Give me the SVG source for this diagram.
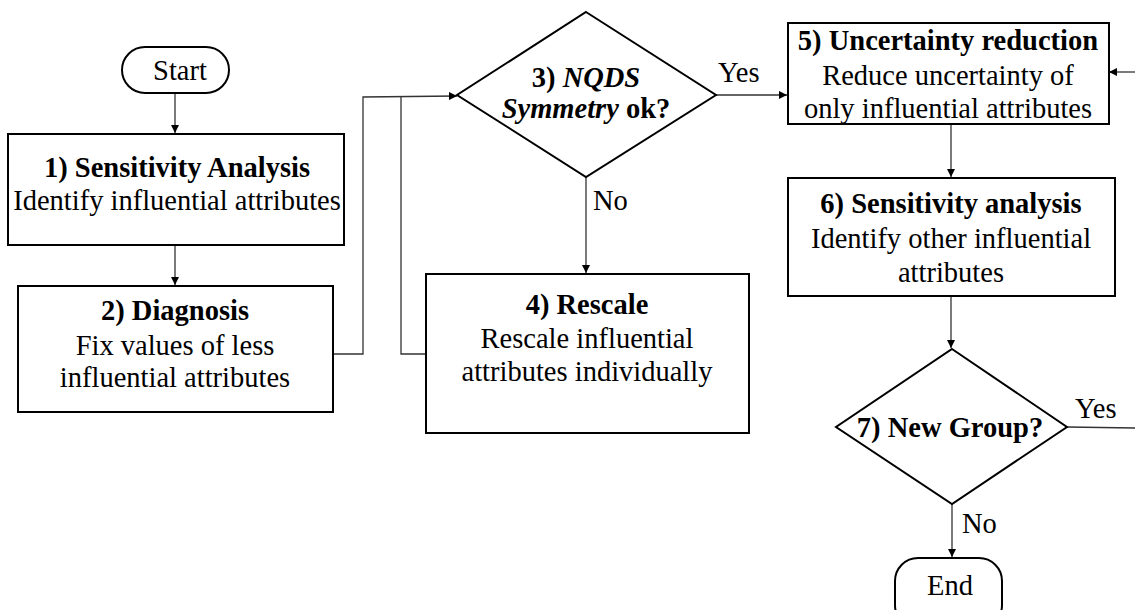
<svg xmlns="http://www.w3.org/2000/svg" width="1135" height="610" viewBox="0 0 1135 610">
<style>
.shape{fill:#fff;stroke:#000;stroke-width:2}
.line{fill:none;stroke:#333;stroke-width:1.3}
text{font-family:"Liberation Serif","Times New Roman",serif;font-size:28.5px;fill:#000;text-anchor:middle}
.b{font-weight:bold}
.lbl{text-anchor:start}
</style>
<defs>
<marker id="ah" viewBox="0 0 10 10" refX="10" refY="5" markerWidth="8" markerHeight="8" markerUnits="userSpaceOnUse" orient="auto">
<path d="M0,0 L10,5 L0,10 Z" fill="#000"/>
</marker>
</defs>
<rect width="1135" height="610" fill="#fff"/>
<g id="connectors">
<line class="line" x1="175" y1="93" x2="175" y2="133" marker-end="url(#ah)"/>
<line class="line" x1="175" y1="245" x2="175" y2="285" marker-end="url(#ah)"/>
<polyline class="line" points="333,354 363,354 363,97 457,96" marker-end="url(#ah)"/>
<polyline class="line" points="426,354 401,354 401,97"/>
<line class="line" x1="716" y1="95" x2="787" y2="95" marker-end="url(#ah)"/>
<line class="line" x1="586" y1="177" x2="586" y2="273" marker-end="url(#ah)"/>
<line class="line" x1="1135" y1="72" x2="1109" y2="72" marker-end="url(#ah)"/>
<line class="line" x1="951" y1="124" x2="951" y2="177" marker-end="url(#ah)"/>
<line class="line" x1="951" y1="296" x2="951" y2="348" marker-end="url(#ah)"/>
<line class="line" x1="1067" y1="427" x2="1135" y2="428"/>
<line class="line" x1="952" y1="504" x2="952" y2="557" marker-end="url(#ah)"/>
<text class="lbl" x="718" y="82">Yes</text>
<text class="lbl" x="593" y="210">No</text>
<text class="lbl" x="1075" y="418">Yes</text>
<text class="lbl" x="962" y="533">No</text>
</g>
<g id="start">
<rect class="shape" x="122" y="47" width="107" height="46" rx="23" ry="23"/>
<text x="180" y="80">Start</text>
</g>
<g id="n1">
<rect class="shape" x="8" y="134" width="336" height="111"/>
<text class="b" x="177" y="177">1) Sensitivity Analysis</text>
<text x="177" y="210">Identify influential attributes</text>
</g>
<g id="n2">
<rect class="shape" x="18" y="286" width="315" height="126"/>
<text class="b" x="175" y="320">2) Diagnosis</text>
<text x="175" y="355">Fix values of less</text>
<text x="175" y="387">influential attributes</text>
</g>
<g id="n3">
<polygon class="shape" points="586,12 716,95 586,177 457,95"/>
<text class="b" x="586" y="87">3) <tspan font-style="italic">NQDS</tspan></text>
<text class="b" x="586" y="118"><tspan font-style="italic">Symmetry</tspan> ok?</text>
</g>
<g id="n4">
<rect class="shape" x="426" y="274" width="323" height="159"/>
<text class="b" x="587" y="314">4) Rescale</text>
<text x="587" y="348">Rescale influential</text>
<text x="587" y="381">attributes individually</text>
</g>
<g id="n5">
<rect class="shape" x="788" y="23" width="321" height="101"/>
<text class="b" x="948" y="50">5) Uncertainty reduction</text>
<text x="948" y="85">Reduce uncertainty of</text>
<text x="948" y="118">only influential attributes</text>
</g>
<g id="n6">
<rect class="shape" x="788" y="178" width="327" height="118"/>
<text class="b" x="951" y="213">6) Sensitivity analysis</text>
<text x="951" y="248">Identify other influential</text>
<text x="951" y="282">attributes</text>
</g>
<g id="n7">
<polygon class="shape" points="952,349 1067,427 952,504 836,427"/>
<text class="b" x="950" y="437">7) New Group?</text>
</g>
<g id="end">
<rect class="shape" x="895" y="558" width="107" height="70" rx="23" ry="23"/>
<text x="950" y="595">End</text>
</g>
</svg>
